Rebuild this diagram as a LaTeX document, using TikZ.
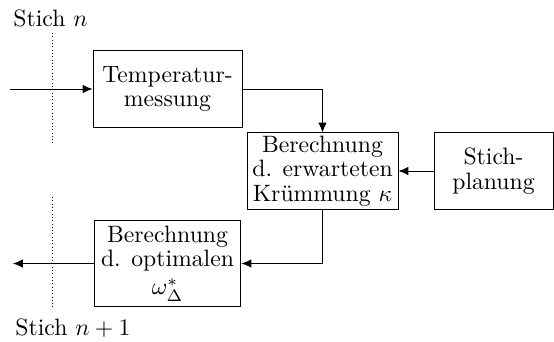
\documentclass[tikz,border=0pt]{standalone}
\usetikzlibrary{arrows.meta}
\begin{document}
\begin{tikzpicture}[x=0.422pt,y=-0.422pt,
  blk/.style={draw,align=center,inner sep=0pt,font=\fontsize{10}{10.4}\selectfont},
  arr/.style={-{Latex[length=4.2pt,width=3.6pt]}},
  sep/.style={densely dotted}]
\useasboundingbox (0,0) rectangle (554,342);
\node[blk,minimum width=62.9pt,minimum height=32.1pt] (b1) at (167.5,89) {Temperatur-\\messung};
\node[blk,minimum width=63.7pt,minimum height=32.1pt] (b2) at (322.5,171) {Berechnung\\d. erwarteten\\Krümmung $\kappa$};
\node[blk,minimum width=50.2pt,minimum height=32.1pt] (b3) at (493.5,171) {Stich-\\planung};
\node[blk,minimum width=62.0pt,minimum height=35.9pt] (b4) at (167.5,263.5) {Berechnung\\d. optimalen\\[1.5pt]$\omega^*_\Delta$};
\node[anchor=west,inner sep=0pt] (t1) at (13,18) {Stich $n$};
\node[anchor=west,inner sep=0pt] (t2) at (15,328) {Stich $n+1$};
\coordinate (in) at (10,89);
\coordinate (out) at (13,263.5);
\coordinate (s1a) at (52,33);
\coordinate (s1b) at (52,145);
\coordinate (s2a) at (52,197);
\coordinate (s2b) at (52,307);
\draw[sep] (s1a) -- (s1b);
\draw[sep] (s2a) -- (s2b);
\draw[arr] (in) -- (b1.west);
\draw[arr] (b1.east) -| (b2.north);
\draw[arr] (b3.west) -- (b2.east);
\draw[arr] (b2.south) |- (b4.east);
\draw[arr] (b4.west) -- (out);
\end{tikzpicture}
\end{document}
